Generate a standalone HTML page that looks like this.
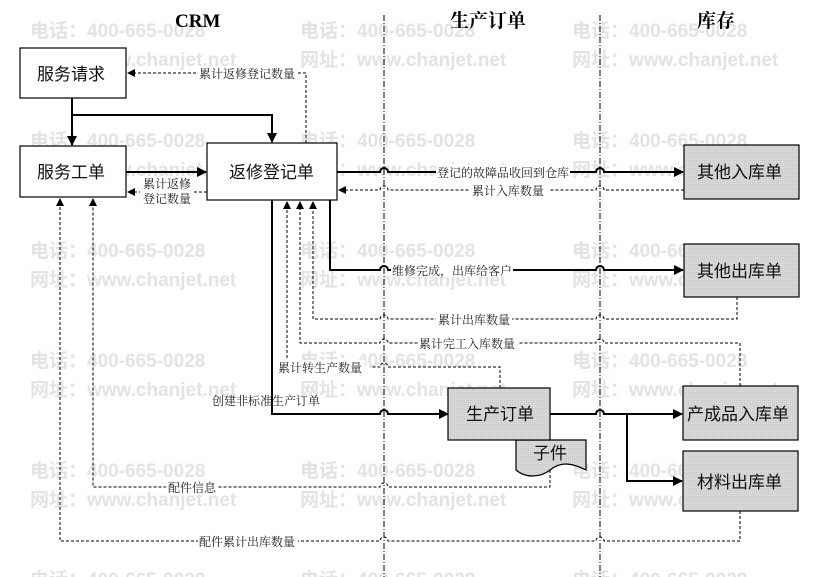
<!DOCTYPE html>
<html><head><meta charset="utf-8">
<style>
html,body{margin:0;padding:0;background:#fff;}
svg{display:block;}
.wm{fill:#e3e3e3;font-family:"Liberation Sans","Noto Sans CJK SC",sans-serif;font-size:19px;font-weight:bold;}
.lb{font-family:"Liberation Serif","Noto Serif CJK SC","Noto Sans CJK SC",serif;font-size:12px;fill:#222;}
.bx{font-family:"Liberation Sans","Noto Sans CJK SC",sans-serif;font-size:17px;fill:#111;}
.hd{font-family:"Liberation Serif","Noto Serif CJK SC",serif;font-size:19px;font-weight:bold;fill:#000;}
</style></head><body>
<svg width="823" height="577" viewBox="0 0 823 577" xmlns="http://www.w3.org/2000/svg">
<defs>
<marker id="a" markerWidth="10" markerHeight="10" refX="9" refY="5" orient="auto" markerUnits="userSpaceOnUse"><path d="M0,0 L10,5 L0,10 z" fill="#000"/></marker>
<marker id="s" markerWidth="8" markerHeight="8" refX="7" refY="4" orient="auto" markerUnits="userSpaceOnUse"><path d="M0,0 L8,4 L0,8 z" fill="#000"/></marker>
<pattern id="g" width="2" height="2" patternUnits="userSpaceOnUse"><rect width="2" height="2" fill="#d8d8d8"/><rect width="1" height="1" fill="#c8c8c8"/></pattern>
</defs>
<g class="wm">
<text x="30" y="37">电话：400-665-0028</text><text x="30" y="66">网址：www.chanjet.net</text>
<text x="300" y="37">电话：400-665-0028</text><text x="300" y="66">网址：www.chanjet.net</text>
<text x="572" y="37">电话：400-665-0028</text><text x="572" y="66">网址：www.chanjet.net</text>
<text x="30" y="147">电话：400-665-0028</text><text x="30" y="176">网址：www.chanjet.net</text>
<text x="300" y="147">电话：400-665-0028</text><text x="300" y="176">网址：www.chanjet.net</text>
<text x="572" y="147">电话：400-665-0028</text><text x="572" y="176">网址：www.chanjet.net</text>
<text x="30" y="257">电话：400-665-0028</text><text x="30" y="286">网址：www.chanjet.net</text>
<text x="300" y="257">电话：400-665-0028</text><text x="300" y="286">网址：www.chanjet.net</text>
<text x="572" y="257">电话：400-665-0028</text><text x="572" y="286">网址：www.chanjet.net</text>
<text x="30" y="367">电话：400-665-0028</text><text x="30" y="396">网址：www.chanjet.net</text>
<text x="300" y="367">电话：400-665-0028</text><text x="300" y="396">网址：www.chanjet.net</text>
<text x="572" y="367">电话：400-665-0028</text><text x="572" y="396">网址：www.chanjet.net</text>
<text x="30" y="477">电话：400-665-0028</text><text x="30" y="506">网址：www.chanjet.net</text>
<text x="300" y="477">电话：400-665-0028</text><text x="300" y="506">网址：www.chanjet.net</text>
<text x="572" y="477">电话：400-665-0028</text><text x="572" y="506">网址：www.chanjet.net</text>
<text x="30" y="586">电话：400-665-0028</text>
<text x="300" y="586">电话：400-665-0028</text>
<text x="572" y="586">电话：400-665-0028</text>
</g>
<g stroke="#000" stroke-width="1" stroke-dasharray="6,2,1,2" fill="none">
<line x1="384" y1="15" x2="384" y2="577"/><line x1="600" y1="15" x2="600" y2="577"/>
</g>
<text class="hd" x="175" y="27">CRM</text>
<text class="hd" x="450" y="27">生产订单</text>
<text class="hd" x="697" y="27">库存</text>
<g stroke="#000" stroke-width="2" fill="none">
<path d="M72,98 V145" marker-end="url(#a)"/>
<path d="M72,115 H272 V142" marker-end="url(#a)"/>
<path d="M126,172 H206" marker-end="url(#a)"/>
<path d="M337,172 H380 a4,4 0 0 1 8,0 H596 a4,4 0 0 1 8,0 H683" marker-end="url(#a)"/>
<path d="M330,200 V270 H380 a4,4 0 0 1 8,0 H596 a4,4 0 0 1 8,0 H683" marker-end="url(#a)"/>
<path d="M272,200 V414 H380 a4,4 0 0 1 8,0 H448" marker-end="url(#a)"/>
<path d="M550,414 H596 a4,4 0 0 1 8,0 H682" marker-end="url(#a)"/>
<path d="M627,414 V481 H682" marker-end="url(#a)"/>
</g>
<g stroke="#000" stroke-width="1" stroke-dasharray="3,2" fill="none">
<path d="M306,143 V73 H128" marker-end="url(#s)"/>
<path d="M207,192 H128" marker-end="url(#s)"/>
<path d="M684,190 H604 a4,4 0 0 0 -8,0 H388 a4,4 0 0 0 -8,0 H339" marker-end="url(#s)"/>
<path d="M737,297 V319 H604 a4,4 0 0 0 -8,0 H388 a4,4 0 0 0 -8,0 H313 V202" marker-end="url(#s)"/>
<path d="M740,386 V343 H604 a4,4 0 0 0 -8,0 H388 a4,4 0 0 0 -8,0 H300 V202" marker-end="url(#s)"/>
<path d="M500,388 V367 H388 a4,4 0 0 0 -8,0 H370 M287,358 V202" marker-end="url(#s)"/>
<path d="M550,470 V487 H388 a4,4 0 0 0 -8,0 H93 V199" marker-end="url(#s)"/>
<path d="M740,511 V541 H604 a4,4 0 0 0 -8,0 H388 a4,4 0 0 0 -8,0 H60 V199" marker-end="url(#s)"/>
</g>
<g>
<rect x="198" y="66" width="98" height="14" fill="#fff"/><text class="lb" x="199" y="78">累计返修登记数量</text>
<rect x="140" y="176" width="54" height="30" fill="#fff"/><text class="lb" x="143" y="188">累计返修</text><text class="lb" x="143" y="203">登记数量</text>
<rect x="436" y="165" width="134" height="14" fill="#fff"/><text class="lb" x="437" y="177">登记的故障品收回到仓库</text>
<rect x="470" y="183" width="80" height="14" fill="#fff"/><text class="lb" x="472" y="195">累计入库数量</text>
<rect x="391" y="263" width="122" height="14" fill="#fff"/><text class="lb" x="392" y="275">维修完成，出库给客户</text>
<rect x="436" y="312" width="76" height="14" fill="#fff"/><text class="lb" x="438" y="324">累计出库数量</text>
<rect x="418" y="336" width="100" height="14" fill="#fff"/><text class="lb" x="419" y="348">累计完工入库数量</text>
<rect x="277" y="360" width="88" height="14" fill="#fff"/><text class="lb" x="278" y="372">累计转生产数量</text>
<text class="lb" x="212" y="405">创建非标准生产订单</text>
<rect x="166" y="480" width="52" height="14" fill="#fff"/><text class="lb" x="168" y="492">配件信息</text>
<rect x="198" y="534" width="100" height="14" fill="#fff"/><text class="lb" x="199" y="546">配件累计出库数量</text>
</g>
<g stroke="#000" stroke-width="1.2">
<rect x="20" y="48" width="106" height="50" fill="#fff"/>
<rect x="20" y="146" width="106" height="51" fill="#fff"/>
<rect x="207" y="143" width="130" height="57" fill="#fff"/>
<rect x="684" y="145" width="115" height="54" fill="url(#g)"/>
<rect x="684" y="244" width="115" height="53" fill="url(#g)"/>
<rect x="683" y="386" width="115" height="54" fill="url(#g)"/>
<rect x="683" y="451" width="115" height="60" fill="url(#g)"/>
<path d="M516,440 H586 V470 C570,462 560,462 550,470 C540,478 525,478 516,470 Z" fill="url(#g)"/>
<rect x="448" y="388" width="102" height="52" fill="url(#g)"/>
</g>
<g class="bx">
<text x="37" y="80">服务请求</text>
<text x="37" y="178">服务工单</text>
<text x="229" y="178">返修登记单</text>
<text x="697" y="178">其他入库单</text>
<text x="697" y="277">其他出库单</text>
<text x="466" y="420">生产订单</text>
<text x="533" y="459">子件</text>
<text x="687" y="420">产成品入库单</text>
<text x="697" y="488">材料出库单</text>
</g>
</svg>
</body></html>
